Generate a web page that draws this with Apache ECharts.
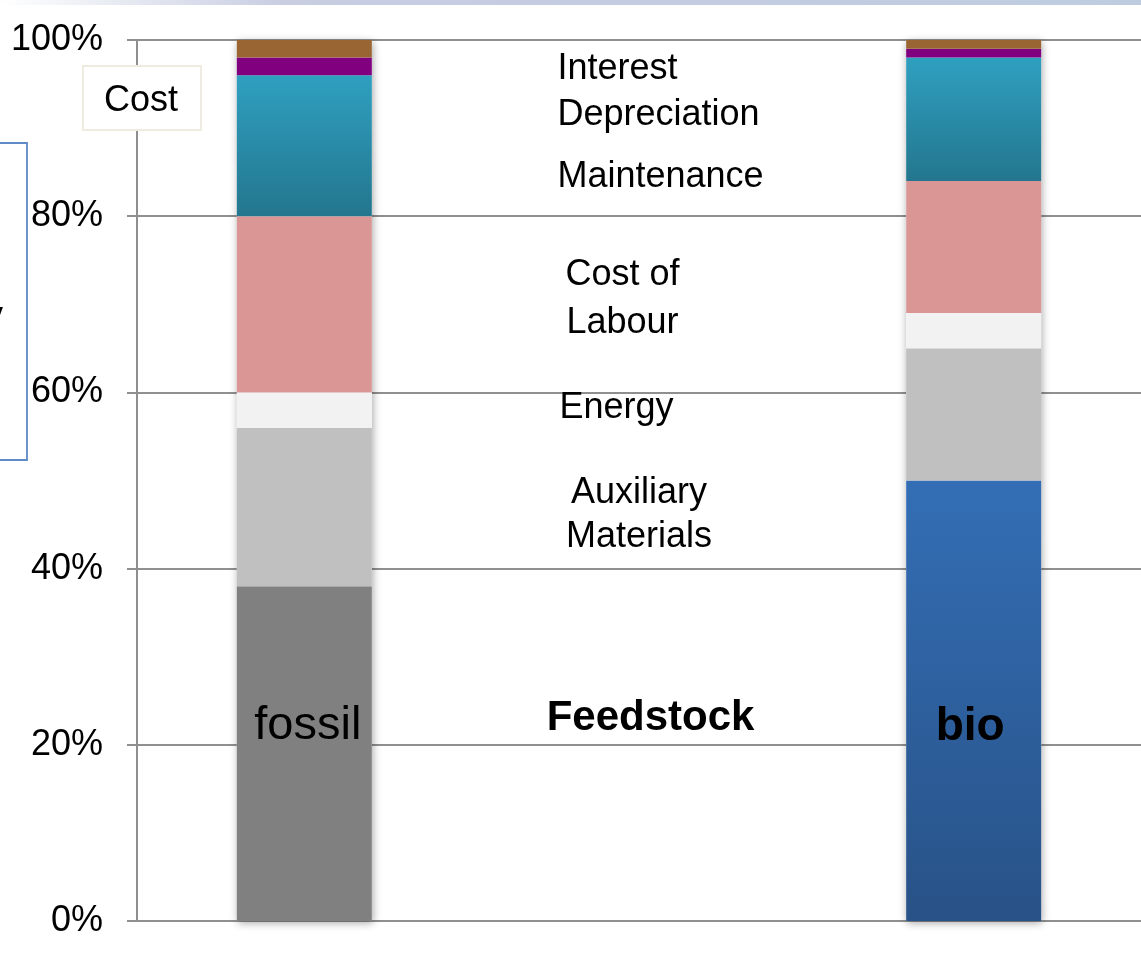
<!DOCTYPE html>
<html>
<head>
<meta charset="utf-8">
<script src="https://cdn.jsdelivr.net/npm/echarts@6/dist/echarts.min.js"></script>
<style>
  html, body { margin: 0; padding: 0; background: #ffffff; }
  #chart { width: 1141px; height: 953px; }
</style>
</head>
<body>
<div id="chart"></div>
<script>
// ---- data ----
const categories = ['fossil', '', 'bio'];
const feedstock    = [38, null, 50];
const auxiliary    = [18, null, 15];
const energy       = [4,  null, 4];
const labour       = [20, null, 15];
const maintenance  = [16, null, 14];
const depreciation = [2,  null, 1];
const interest     = [2,  null, 1];
const yTickValues  = [0, 20, 40, 60, 80, 100];

// annotation texts (column index on the category axis, value on the % axis)
const annoText  = ['Interest\nDepreciation', 'Maintenance', 'Cost of\nLabour', 'Energy', 'Auxiliary\nMaterials', 'Feedstock', 'fossil', 'bio'];
const annoCat   = [1, 1, 1, 1, 1, 1, 0, 2];
const annoValue = [94.4, 84.7, 70.9, 58.5, 46.35, 23.3, 22.4, 22.3];

// ---- chart ----
const FONT = "'Liberation Sans', Arial, sans-serif";
const chart = echarts.init(document.getElementById('chart'), null, { renderer: 'canvas' });

const G = echarts.graphic;
const blueGrad = new G.LinearGradient(0, 0, 0, 1, [
  { offset: 0, color: '#336EB5' }, { offset: 1, color: '#285287' }
]);
const tealGrad = new G.LinearGradient(0, 0, 0, 1, [
  { offset: 0, color: '#2FA0C0' }, { offset: 1, color: '#23768E' }
]);

const totals = categories.map((c, i) => {
  const parts = [feedstock, auxiliary, energy, labour, maintenance, depreciation, interest].map(a => a[i]);
  return parts.every(p => p == null) ? null : parts.reduce((s, p) => s + (p || 0), 0);
});

function seg(name, data, color) {
  return {
    name, type: 'bar', stack: 'cost', data,
    barWidth: 135, barGap: '-100%',
    itemStyle: { color },
    z: 3
  };
}

const annoStyles = [
  { align: 'left',   dx: -81.5, fontSize: 36, lineHeight: 45.5, fontWeight: 'normal' },
  { align: 'left',   dx: -81.5, fontSize: 36, lineHeight: 44,   fontWeight: 'normal' },
  { align: 'center', dx: -16.5, fontSize: 36, lineHeight: 48,   fontWeight: 'normal' },
  { align: 'left',   dx: -79.5, fontSize: 36, lineHeight: 44,   fontWeight: 'normal' },
  { align: 'center', dx: 0,     fontSize: 36, lineHeight: 43.7, fontWeight: 'normal' },
  { align: 'center', dx: 11.5,  fontSize: 42, lineHeight: 44,   fontWeight: 'bold' },
  { align: 'center', dx: 3.5,   fontSize: 47, lineHeight: 50,   fontWeight: 'normal' },
  { align: 'center', dx: -3.5,  fontSize: 46, lineHeight: 50,   fontWeight: 'bold' }
];

const annoData = annoText.map((t, i) => ({
  value: [annoCat[i], annoValue[i]],
  label: {
    show: true,
    position: 'inside',
    formatter: t,
    align: annoStyles[i].align,
    verticalAlign: 'middle',
    offset: [annoStyles[i].dx, 2.5],
    fontSize: annoStyles[i].fontSize,
    lineHeight: annoStyles[i].lineHeight,
    fontWeight: annoStyles[i].fontWeight,
    fontFamily: FONT,
    color: '#000000',
    opacity: 1
  }
}));

const option = {
  animation: false,
  backgroundColor: '#ffffff',
  grid: { left: 137, right: -1, top: 40, bottom: 32, containLabel: false },
  xAxis: {
    type: 'category',
    data: categories,
    axisLine: { show: true, lineStyle: { color: '#8f8f8f', width: 2 } },
    axisTick: { show: false },
    axisLabel: { show: false },
    splitLine: { show: false }
  },
  yAxis: {
    type: 'value',
    min: 0, max: 100, interval: 20,
    axisLine: { show: true, lineStyle: { color: '#8f8f8f', width: 2 } },
    axisTick: { show: true, length: 10, lineStyle: { color: '#8f8f8f', width: 2 } },
    axisLabel: {
      formatter: v => (yTickValues.indexOf(v) >= 0 ? v + '%' : ''),
      fontSize: 36, color: '#000000', margin: 34, fontFamily: FONT,
      padding: [5, 0, 0, 0]
    },
    splitLine: { show: true, lineStyle: { color: '#8f8f8f', width: 2 } }
  },
  series: [
    {
      name: 'backdrop', type: 'bar', data: totals,
      barWidth: 135, barGap: '-100%', silent: true, z: 2,
      itemStyle: { color: '#ffffff', shadowBlur: 8, shadowColor: 'rgba(0,0,0,0.35)', shadowOffsetX: 1, shadowOffsetY: 2 }
    },
    seg('Feedstock', feedstock.map((v, i) => ({ value: v, itemStyle: { color: i === 2 ? blueGrad : '#808080' } })), '#808080'),
    seg('Auxiliary Materials', auxiliary, '#C0C0C0'),
    seg('Energy', energy, '#F2F2F2'),
    seg('Cost of Labour', labour, '#D99694'),
    seg('Maintenance', maintenance, tealGrad),
    seg('Depreciation', depreciation, '#800080'),
    seg('Interest', interest, '#996633'),
    {
      name: 'annotations', type: 'scatter', data: annoData,
      symbolSize: 1, itemStyle: { color: 'rgba(0,0,0,0)', opacity: 1 },
      emphasis: { disabled: true }, silent: true, z: 10
    }
  ],
  graphic: [
    {
      type: 'rect', left: 0, top: 0, z: 100,
      shape: { width: 1141, height: 5 },
      style: { fill: new G.LinearGradient(0, 0, 1, 0, [
        { offset: 0, color: '#ffffff' }, { offset: 0.03, color: '#f8f9fb' },
        { offset: 0.25, color: '#c8cde2' }, { offset: 1, color: '#bfcce0' }
      ]) }
    },
    {
      type: 'rect', z: 100,
      shape: { x: -10, y: 143, width: 37, height: 317 },
      style: { fill: 'none', stroke: '#5f8ac6', lineWidth: 1.8 }
    },
    {
      type: 'text', z: 100, x: 3, y: 335,
      style: { text: 'y', font: '36px ' + FONT, fill: '#000', textAlign: 'right', textVerticalAlign: 'bottom' }
    },
    {
      type: 'rect', z: 100,
      shape: { x: 83, y: 66, width: 118, height: 64 },
      style: { fill: '#ffffff', stroke: '#eeebe1', lineWidth: 2 }
    },
    {
      type: 'text', z: 101, x: 141, y: 101,
      style: { text: 'Cost', font: '36px ' + FONT, fill: '#000', textAlign: 'center', textVerticalAlign: 'middle' }
    }
  ]
};

chart.setOption(option);
</script>
</body>
</html>
